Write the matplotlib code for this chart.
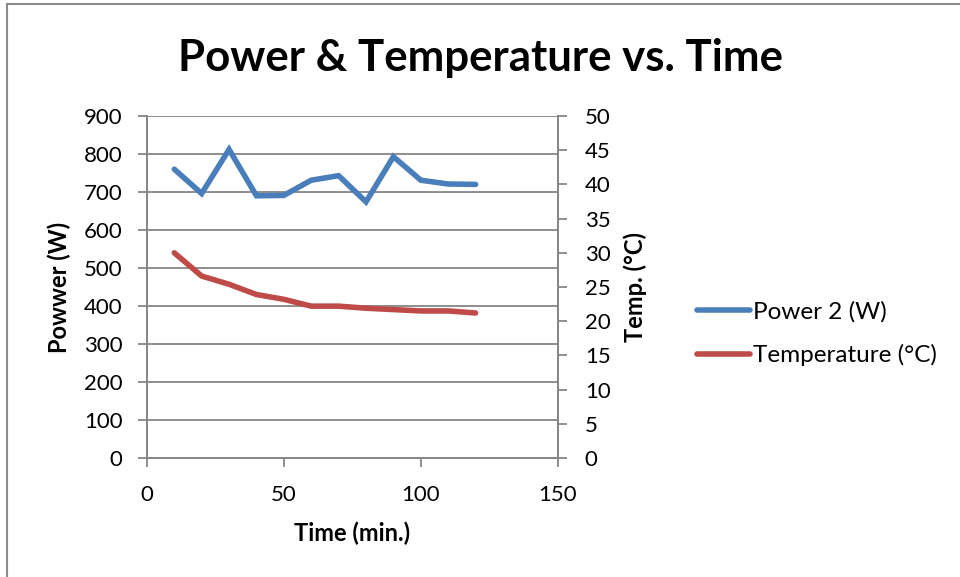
import matplotlib.pyplot as plt
from matplotlib.lines import Line2D

plt.rcParams['font.family'] = ['Lato', 'DejaVu Sans']

time_min = [10, 20, 30, 40, 50, 60, 70, 80, 90, 100, 110, 120]
power_w = [760, 696, 812, 690, 691, 731, 743, 674, 793, 731, 721, 720]
temp_c = [30.0, 26.6, 25.4, 23.9, 23.2, 22.2, 22.2, 21.9, 21.7, 21.5, 21.5, 21.2]

blue = '#4a7ebb'
red = '#be4b48'
grid_col = '#868686'

fig = plt.figure(figsize=(9.6, 5.77), dpi=100)
# outer chart frame (only left and top edges visible in the crop)
fig.lines.append(Line2D([0.0075, 0.0075], [0, 0.993], transform=fig.transFigure,
                        color='#8c8c8c', linewidth=1.5))
fig.lines.append(Line2D([0.0075, 1.0], [0.993, 0.993], transform=fig.transFigure,
                        color='#8c8c8c', linewidth=1.5))

ax = fig.add_axes([0.153, 0.2062, 0.428, 0.5928])
ax2 = ax.twinx()

l1, = ax.plot(time_min, power_w, color=blue, linewidth=4, solid_capstyle='round',
              solid_joinstyle='miter', label='Power 2 (W)')
l2, = ax2.plot(time_min, temp_c, color=red, linewidth=4, solid_capstyle='round',
               solid_joinstyle='miter', label='Temperature (°C)')

ax.set_xlim(0, 150)
ax.set_ylim(0, 900)
ax2.set_ylim(0, 50)
ax.set_xticks([0, 50, 100, 150])
ax.set_yticks(range(0, 901, 100))
ax2.set_yticks(range(0, 51, 5))

ax.yaxis.grid(True, color=grid_col, linewidth=1.3)
ax.set_axisbelow(True)

for a in (ax, ax2):
    for s in a.spines.values():
        s.set_color(grid_col)
        s.set_linewidth(1.3)
    a.tick_params(colors=grid_col, labelcolor='black', labelsize=16, length=6.5, width=1.3)
ax2.spines['top'].set_visible(False)
ax.spines['top'].set_visible(False)
ax.tick_params(axis='y', pad=11)
ax.tick_params(axis='x', pad=13)
ax2.tick_params(axis='y', pad=13)

ax.set_xlabel('Time (min.)', fontsize=17, fontweight='bold', labelpad=12)
ax.set_ylabel('Powwer (W)', fontsize=17, fontweight='bold', labelpad=9)
ax2.set_ylabel('Temp. (°C)', fontsize=17, fontweight='bold', labelpad=9)

fig.text(0.5, 0.90, 'Power & Temperature vs. Time', ha='center', va='center',
         fontsize=31.5, fontweight='bold')

fig.legend(handles=[l1, l2], loc='center left', bbox_to_anchor=(0.703, 0.422),
           frameon=False, fontsize=17.5, handlelength=2.2, handletextpad=0.1,
           labelspacing=0.9)

fig.savefig('out.png', dpi=100)
